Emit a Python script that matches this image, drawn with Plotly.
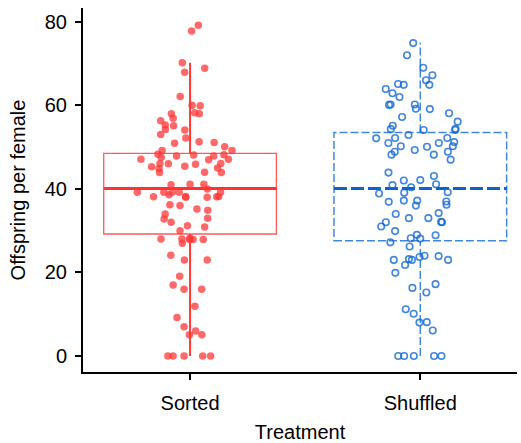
import plotly.graph_objects as go

# ---------------- data ----------------
categories = ["Sorted", "Shuffled"]

sorted_vals = [79.2, 77.8, 70.2, 68.9, 67.9, 62.1, 60.0, 59.9, 58.2, 58.0,
               58.0, 56.9, 56.3, 55.3, 55.1, 54.2, 54.1, 53.0, 52.2, 51.3,
               51.1, 50.9, 50.1, 49.2, 49.2, 48.3, 48.2, 48.1, 47.9, 47.9,
               47.6, 47.1, 47.1, 47.0, 46.1, 46.1, 46.0, 45.9, 45.4, 45.3,
               45.0, 44.9, 44.0, 43.9, 43.9, 41.1, 41.1, 41.0, 40.0, 39.2,
               39.2, 39.2, 39.2, 39.2, 38.6, 38.2, 38.2, 38.1, 38.1, 38.0,
               38.0, 36.2, 36.0, 35.2, 34.9, 34.0, 33.0, 32.8, 32.0, 31.2,
               30.9, 30.0, 28.2, 28.0, 28.0, 27.9, 27.9, 27.9, 27.0, 24.1,
               23.0, 23.0, 19.1, 17.0, 16.0, 16.0, 11.9, 9.2, 7.0, 6.0,
               5.1, 5.1, 0, 0, 0, 0, 0]

shuffled_vals = [74.9, 72.0, 69.0, 67.2, 66.0, 65.1, 64.9, 64.9, 63.9, 62.9,
                 62.0, 60.2, 60.2, 60.1, 59.2, 59.1, 58.1, 57.2, 56.1, 55.1,
                 54.4, 54.3, 54.1, 54.1, 52.9, 52.2, 52.2, 52.1, 51.2, 51.0,
                 51.0, 50.2, 50.2, 50.1, 49.3, 48.9, 48.9, 48.2, 48.2, 47.0,
                 43.9, 43.1, 42.1, 42.0, 41.1, 40.9, 40.4, 39.2, 39.1, 38.9,
                 37.2, 37.2, 37.0, 36.9, 36.2, 36.0, 34.2, 34.0, 33.0, 33.0,
                 32.1, 32.0, 32.0, 31.0, 29.9, 29.0, 28.9, 28.2, 28.1, 27.2,
                 26.2, 24.0, 23.9, 23.7, 23.2, 23.0, 23.0, 23.0, 21.8, 19.9,
                 17.2, 16.3, 15.2, 11.2, 10.1, 8.1, 8.0, 6.1, 0, 0,
                 0, 0, 0]

# box-plot statistics as drawn in the reference
lower_whisker = [0.0, 0.0]
q1 = [29.2, 27.6]
median = [40.1, 40.1]
q3 = [48.5, 53.5]
upper_whisker = [70.2, 75.0]

y_ticks = [0, 20, 40, 60, 80]

# ---------------- styles ----------------
FONT = "Liberation Sans, Arial, Helvetica, sans-serif"
HALF = 0.375  # half box width (x units)

styles = [
    dict(box=dict(color="rgba(255,60,60,0.85)", width=1.3, dash="solid"),
         whisker=dict(color="rgb(255,55,55)", width=2, dash="solid"),
         med=dict(color="rgb(255,50,50)", width=3, dash="solid"),
         marker=dict(symbol="circle", size=7.5, color="rgba(255,55,55,0.75)",
                     line=dict(width=0))),
    dict(box=dict(color="rgba(30,115,215,0.85)", width=1.5, dash="8px,3px"),
         whisker=dict(color="rgba(30,115,215,0.85)", width=1.5, dash="8px,3px"),
         med=dict(color="rgb(10,100,205)", width=3, dash="13px,4px"),
         marker=dict(symbol="circle-open", size=6.5, color="rgba(20,105,210,0.8)",
                     line=dict(width=1.6))),
]

values = [sorted_vals, shuffled_vals]

fig = go.Figure()

for i, cat in enumerate(categories):
    st = styles[i]
    c = i
    # box rectangle (below the points)
    fig.add_shape(type="rect", xref="x", yref="y",
                  x0=c - HALF, x1=c + HALF, y0=q1[i], y1=q3[i],
                  line=st["box"], fillcolor="rgba(0,0,0,0)", layer="below")
    # whiskers
    fig.add_shape(type="line", xref="x", yref="y", x0=c, x1=c,
                  y0=lower_whisker[i], y1=q1[i], line=st["whisker"], layer="below")
    fig.add_shape(type="line", xref="x", yref="y", x0=c, x1=c,
                  y0=q3[i], y1=upper_whisker[i], line=st["whisker"], layer="below")
    # median
    fig.add_shape(type="line", xref="x", yref="y", x0=c - HALF, x1=c + HALF,
                  y0=median[i], y1=median[i], line=st["med"], layer="below")
    # jittered points
    fig.add_trace(go.Box(
        y=values[i], x0=c, name=cat, boxpoints="all", jitter=0.62,
        pointpos=0, width=2 * HALF, fillcolor="rgba(0,0,0,0)",
        line=dict(width=0, color="rgba(0,0,0,0)"), whiskerwidth=0,
        marker=st["marker"], hoveron="points", showlegend=False))

fig.update_layout(
    width=521, height=443,
    margin=dict(l=83, r=4, t=8, b=71),
    paper_bgcolor="white", plot_bgcolor="white",
    font=dict(family=FONT, size=20, color="black"),
    showlegend=False,
    boxmode="overlay",
)
fig.update_xaxes(
    range=[-0.465, 1.42], automargin=False,
    tickmode="array", tickvals=list(range(len(categories))), ticktext=categories,
    showline=True, linecolor="black", linewidth=2,
    ticks="outside", ticklen=6, tickwidth=2, tickcolor="black",
    ticklabelstandoff=6,
    showgrid=False, zeroline=False,
    tickfont=dict(size=20),
    title=dict(text="Treatment", font=dict(size=20), standoff=12),
)
fig.update_yaxes(
    range=[-3.83, 83.3], automargin=False,
    tickmode="array", tickvals=y_ticks,
    showline=True, linecolor="black", linewidth=2,
    ticks="outside", ticklen=6, tickwidth=2, tickcolor="black",
    ticklabelstandoff=4,
    showgrid=False, zeroline=False,
    tickfont=dict(size=20),
    title=dict(text="Offspring per female", font=dict(size=20), standoff=14),
)

fig.write_html("out.html", config={"displayModeBar": False},
               post_script="document.body.style.margin='0';")
